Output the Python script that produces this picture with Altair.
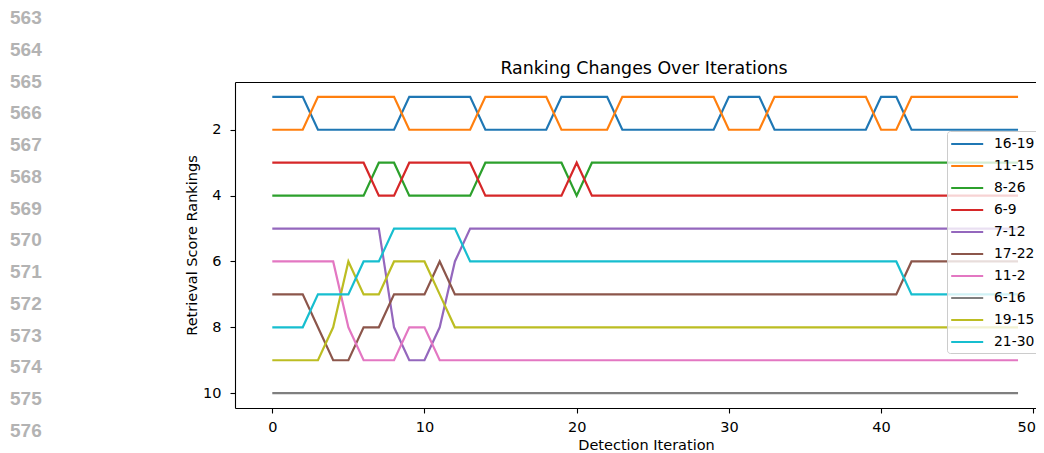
import altair as alt
import pandas as pd

# ---- data ----
iterations = [i for i in range(50)]

series_names = ["16-19", "11-15", "8-26", "6-9", "7-12",
                "17-22", "11-2", "6-16", "19-15", "21-30"]

s_16_19 = [1, 1, 1, 2, 2, 2, 2, 2, 2, 1,
           1, 1, 1, 1, 2, 2, 2, 2, 2, 1,
           1, 1, 1, 2, 2, 2, 2, 2, 2, 2,
           1, 1, 1, 2, 2, 2, 2, 2, 2, 2,
           1, 1, 2, 2, 2, 2, 2, 2, 2, 2]
s_11_15 = [2, 2, 2, 1, 1, 1, 1, 1, 1, 2,
           2, 2, 2, 2, 1, 1, 1, 1, 1, 2,
           2, 2, 2, 1, 1, 1, 1, 1, 1, 1,
           2, 2, 2, 1, 1, 1, 1, 1, 1, 1,
           2, 2, 1, 1, 1, 1, 1, 1, 1, 1]
s_8_26 = [4, 4, 4, 4, 4, 4, 4, 3, 3, 4,
          4, 4, 4, 4, 3, 3, 3, 3, 3, 3,
          4, 3, 3, 3, 3, 3, 3, 3, 3, 3,
          3, 3, 3, 3, 3, 3, 3, 3, 3, 3,
          3, 3, 3, 3, 3, 3, 3, 3, 3, 3]
s_6_9 = [3, 3, 3, 3, 3, 3, 3, 4, 4, 3,
         3, 3, 3, 3, 4, 4, 4, 4, 4, 4,
         3, 4, 4, 4, 4, 4, 4, 4, 4, 4,
         4, 4, 4, 4, 4, 4, 4, 4, 4, 4,
         4, 4, 4, 4, 4, 4, 4, 4, 4, 4]
s_7_12 = [5, 5, 5, 5, 5, 5, 5, 5, 8, 9,
          9, 8, 6, 5, 5, 5, 5, 5, 5, 5,
          5, 5, 5, 5, 5, 5, 5, 5, 5, 5,
          5, 5, 5, 5, 5, 5, 5, 5, 5, 5,
          5, 5, 5, 5, 5, 5, 5, 5, 5, 5]
s_17_22 = [7, 7, 7, 8, 9, 9, 8, 8, 7, 7,
           7, 6, 7, 7, 7, 7, 7, 7, 7, 7,
           7, 7, 7, 7, 7, 7, 7, 7, 7, 7,
           7, 7, 7, 7, 7, 7, 7, 7, 7, 7,
           7, 7, 6, 6, 6, 6, 6, 6, 6, 6]
s_11_2 = [6, 6, 6, 6, 6, 8, 9, 9, 9, 8,
          8, 9, 9, 9, 9, 9, 9, 9, 9, 9,
          9, 9, 9, 9, 9, 9, 9, 9, 9, 9,
          9, 9, 9, 9, 9, 9, 9, 9, 9, 9,
          9, 9, 9, 9, 9, 9, 9, 9, 9, 9]
s_6_16 = [10, 10, 10, 10, 10, 10, 10, 10, 10, 10,
          10, 10, 10, 10, 10, 10, 10, 10, 10, 10,
          10, 10, 10, 10, 10, 10, 10, 10, 10, 10,
          10, 10, 10, 10, 10, 10, 10, 10, 10, 10,
          10, 10, 10, 10, 10, 10, 10, 10, 10, 10]
s_19_15 = [9, 9, 9, 9, 8, 6, 7, 7, 6, 6,
           6, 7, 8, 8, 8, 8, 8, 8, 8, 8,
           8, 8, 8, 8, 8, 8, 8, 8, 8, 8,
           8, 8, 8, 8, 8, 8, 8, 8, 8, 8,
           8, 8, 8, 8, 8, 8, 8, 8, 8, 8]
s_21_30 = [8, 8, 8, 7, 7, 7, 6, 6, 5, 5,
           5, 5, 5, 6, 6, 6, 6, 6, 6, 6,
           6, 6, 6, 6, 6, 6, 6, 6, 6, 6,
           6, 6, 6, 6, 6, 6, 6, 6, 6, 6,
           6, 6, 7, 7, 7, 7, 7, 7, 7, 7]

series_values = [s_16_19, s_11_15, s_8_26, s_6_9, s_7_12,
                 s_17_22, s_11_2, s_6_16, s_19_15, s_21_30]

x_ticks = [0, 10, 20, 30, 40, 50]
y_ticks = [2, 4, 6, 8, 10]
line_numbers = [563, 564, 565, 566, 567, 568, 569, 570, 571, 572, 573, 574, 575, 576]

colors = ["#1f77b4", "#ff7f0e", "#2ca02c", "#d62728", "#9467bd",
          "#8c564b", "#e377c2", "#7f7f7f", "#bcbd22", "#17becf"]

rows = []
for k, (name, vals) in enumerate(zip(series_names, series_values)):
    for it, v in zip(iterations, vals):
        rows.append({"series": name, "order": k, "iter": it, "rank": v})
df = pd.DataFrame(rows)
ln_df = pd.DataFrame({"ln": line_numbers})

W, H = 801, 326
FONT = "DejaVu Sans"
FS = 14.5

x_scale = alt.Scale(domain=[-2.45, 50.18], nice=False, zero=False)

lines = alt.Chart(df).mark_line(strokeWidth=2.2).encode(
    x=alt.X("iter:Q", scale=x_scale,
            axis=alt.Axis(values=x_ticks, format="d", title="Detection Iteration",
                          titleX=411, titleAlign="center", titleY=41.5,
                          titleBaseline="alphabetic", labelPadding=7,
                          labelOffset=alt.expr("datum.value == 50 ? -7 : 0"))),
    y=alt.Y("rank:Q",
            scale=alt.Scale(domain=[0.55, 10.45], reverse=True, nice=False, zero=False),
            axis=alt.Axis(values=y_ticks, format="d", title="Retrieval Score Rankings",
                          titleX=-43, titleBaseline="middle", labelPadding=9)),
    color=alt.Color("series:N",
                    scale=alt.Scale(domain=series_names, range=colors),
                    sort=series_names,
                    legend=alt.Legend(title=None, orient="none", legendX=712, legendY=49,
                                      direction="vertical",
                                      symbolType="M-1.1,0H2.9", symbolSize=256,
                                      symbolStrokeWidth=2, labelOffset=25,
                                      labelFont=FONT, labelFontSize=13.9, labelColor="black",
                                      fillColor="rgba(255,255,255,0.8)",
                                      strokeColor="#cccccc", cornerRadius=3,
                                      padding=4, rowPadding=6)),
    detail="series:N",
)

top_axis = alt.Chart(df).mark_point(opacity=0).encode(
    x=alt.X("iter:Q", scale=x_scale,
            axis=alt.Axis(orient="top", labels=False, ticks=False, title=None,
                          domainColor="black", domainWidth=1.1)),
)

numbers = alt.Chart(ln_df).mark_text(
    align="left", baseline="middle", font="Liberation Sans", fontWeight="bold",
    fontSize=19, color="#b3b3b3"
).encode(
    x=alt.value(-225),
    y=alt.Y("ln:Q", scale=alt.Scale(domain=[563, 576], range=[-64, 349]), axis=None),
    text="ln:Q",
)

chart = alt.layer(lines, top_axis, numbers).resolve_scale(
    y="independent"
).resolve_axis(
    x="independent"
).properties(
    width=W, height=H,
    autosize=alt.AutoSizeParams(type="none"),
    padding={"left": 227, "top": 74, "right": 0, "bottom": 45},
    title=alt.Title("Ranking Changes Over Iterations", font=FONT, fontSize=17.4,
                    fontWeight="normal", color="black", anchor="middle",
                    frame="group", dx=8.5, dy=90.5, offset=8, baseline="alphabetic"),
).configure_view(
    strokeWidth=0
).configure_axis(
    grid=False, labelFont=FONT, labelFontSize=FS, labelColor="black",
    titleFont=FONT, titleFontSize=FS, titleFontWeight="normal", titleColor="black",
    tickColor="black", tickSize=5, tickWidth=1.1, domainColor="black", domainWidth=1.1,
    labelPadding=4,
)

chart.save("out.html", embed_options={"renderer": "svg", "actions": False})
